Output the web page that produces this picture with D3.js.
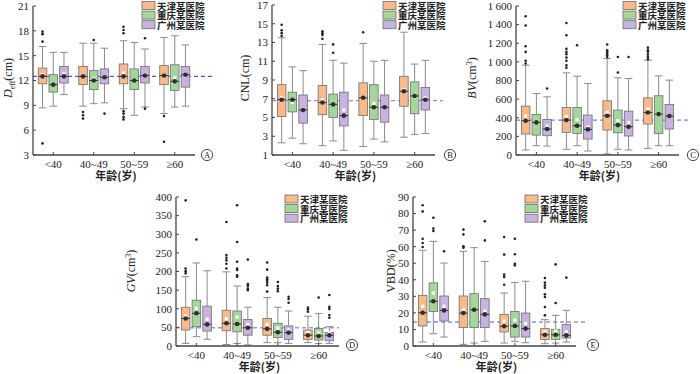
<!DOCTYPE html>
<html>
<head>
<meta charset="utf-8">
<script src="https://cdn.jsdelivr.net/npm/d3@7"></script>
<style>
  body { margin: 0; background: #fff; }
  svg { display: block; font-family: "Liberation Serif", serif; }
  .tick-label { font-size: 11px; fill: #222; }
  .legend-text { font-family: "Noto Sans CJK SC", sans-serif; font-size: 9.5px; font-weight: bold; fill: #222; }
  .x-title { font-family: "Noto Sans CJK SC", sans-serif; font-size: 11px; font-weight: bold; fill: #222; }
</style>
</head>
<body>
<svg width="700" height="374"></svg>
<script>
const groups = ["<40", "40~49", "50~59", "≥60"];
const hospitals = ["天津某医院", "重庆某医院", "广州某医院"];
const colors = ["#f8ba8c", "#a4d69c", "#c7b2e0"];

// [low, q1, median, q3, high] per hospital, per age group
const deffBox = [
  [[8.7, 11.6, 12.5, 13.5, 16.1], [8.9, 11.5, 12.5, 13.7, 16.5], [8.6, 11.6, 12.5, 14.0, 16.8], [8.0, 11.5, 12.6, 13.8, 17.2]],
  [[8.9, 10.6, 11.5, 12.7, 15.4], [9.2, 10.9, 12.0, 13.2, 16.5], [7.8, 10.9, 12.0, 13.4, 16.6], [8.8, 10.8, 11.9, 13.9, 17.4]],
  [[10.3, 11.7, 12.5, 13.7, 15.4], [9.3, 11.6, 12.4, 13.4, 15.9], [8.8, 11.7, 12.6, 13.7, 15.8], [8.9, 11.2, 12.7, 13.7, 16.3]]
];
const deffMean = [[12.7, 12.6, 12.9, 12.7], [11.6, 12.2, 12.1, 12.3], [12.8, 12.4, 12.7, 12.6]];
const deffOut = [
  [[17.9, 17.6, 16.7, 4.4], [8.2, 7.8, 7.4], [18.5, 18.1, 17.7, 8.3, 8.0, 7.6, 7.3], [7.7, 4.6]],
  [[], [16.9], [], []],
  [[], [8.0], [17.1, 8.6], []]
];

const cnlBox = [
  [[2.3, 5.1, 6.9, 8.5, 13.5], [2.0, 5.3, 6.6, 8.4, 12.8], [1.9, 5.2, 7.1, 8.7, 12.9], [2.9, 6.2, 7.8, 9.4, 14.1]],
  [[2.8, 5.6, 6.9, 7.7, 10.4], [2.5, 5.0, 6.4, 7.5, 11.1], [2.7, 4.8, 6.1, 8.5, 11.0], [3.2, 5.4, 7.3, 8.8, 10.7]],
  [[2.2, 4.4, 5.8, 7.4, 10.0], [1.5, 4.1, 5.2, 7.7, 10.8], [2.4, 4.5, 6.1, 7.4, 11.1], [3.3, 5.8, 6.9, 8.2, 11.1]]
];
const cnlMean = [[7.1, 6.9, 7.1, 8.0], [6.6, 6.5, 6.5, 7.2], [5.9, 5.8, 6.1, 7.1]];
const cnlOut = [
  [[14.9, 14.3, 14.0, 13.7], [14.2, 14.0, 13.8, 13.4], [14.1], []],
  [[], [12.8, 11.9], [], []],
  [[], [], [], []]
];

const bvBox = [
  [[54, 225, 368, 525, 964], [61, 243, 375, 511, 882], [11, 268, 421, 582, 1036], [71, 332, 457, 614, 1018]],
  [[100, 214, 350, 436, 661], [100, 232, 314, 511, 846], [61, 239, 321, 482, 829], [100, 232, 439, 636, 850]],
  [[96, 207, 279, 382, 625], [43, 171, 275, 429, 768], [54, 204, 304, 471, 821], [100, 279, 418, 543, 804]]
];
const bvMean = [[418, 411, 457, 493], [360, 380, 370, 440], [311, 300, 346, 420]];
const bvOut = [
  [[1490, 1390, 1168, 1107, 1011, 982], [1418, 1286, 1140, 1107, 1082, 1046, 1011, 964, 936], [1186, 1125, 1107, 1089, 1071, 1053], [1153, 1125, 1107, 1078, 1053, 1028]],
  [[], [1178], [1053, 886], []],
  [[714], [], [1053], []]
];

const gvBox = [
  [[7, 43, 74, 104, 186], [4, 41, 61, 96, 199], [9, 29, 46, 74, 130], [9, 18, 29, 43, 80]],
  [[25, 52, 88, 123, 223], [7, 38, 59, 94, 161], [9, 23, 37, 61, 104], [7, 16, 27, 47, 87]],
  [[18, 40, 58, 107, 202], [3, 29, 49, 71, 104], [7, 18, 36, 54, 94], [7, 14, 29, 36, 52]]
];
const gvMean = [[80, 73, 57, 36], [101, 78, 48, 35], [72, 58, 43, 35]];
const gvOut = [
  [[391, 208, 201, 195], [333, 244, 237, 230, 221, 208], [224, 205, 184, 179, 175, 170, 163, 146], [103, 98, 92]],
  [[286], [378, 279, 226, 208, 204, 190, 186], [172, 161, 154, 147], [130]],
  [[], [232, 166, 161, 154, 150], [132, 126, 116], [137, 105, 99, 83, 76]]
];

const vbdBox = [
  [[2.4, 12.1, 20.1, 30.6, 57.8], [1.0, 11.1, 19.9, 30.2, 57.2], [1.8, 8.5, 11.9, 19.1, 32.0], [1.4, 4.0, 6.8, 10.5, 15.9]],
  [[7.4, 20.9, 27.0, 38.1, 63.2], [1.8, 11.1, 21.9, 31.6, 59.4], [2.8, 5.4, 12.1, 20.9, 38.3], [1.8, 4.0, 6.8, 10.1, 18.5]],
  [[5.4, 15.1, 21.5, 30.2, 50.1], [2.8, 11.1, 19.1, 28.6, 51.1], [2.0, 5.4, 10.5, 19.9, 39.1], [2.4, 4.8, 6.4, 12.9, 21.5]]
];
const vbdMean = [[24, 22, 15, 8.5], [32, 22, 15.6, 9], [24, 21, 13.5, 8.5]];
const vbdOut = [
  [[85, 81.3, 64.8, 62.2, 59.8], [70.3, 67.4, 60.2, 59.4], [65.8, 55.2, 43.1, 41.7, 37], [41.1, 38.3, 36.6, 35.2, 31.2, 29.6, 23.6, 18.5]],
  [[77.5, 70.9, 69.5], [], [64.8, 55.4, 49.7, 48.7], [49.3, 26]],
  [[57.2], [75.3, 63.8], [], [41.3]]
];

const panels = [
  { letter: "A", box: deffBox, mean: deffMean, out: deffOut, ref: 12.5, refColor: "#4d5ad4",
    domain: [3, 21], ticks: d3.range(3, 22, 3), x0: 33, x1: 195, top: 6, bottom: 155, dashEnd: 213,
    circle: [207, 155], legend: [142, 1.5], ylab: [8, 78], label: "deff" },
  { letter: "B", box: cnlBox, mean: cnlMean, out: cnlOut, ref: 6.8, refColor: "#8e8ee0",
    domain: [1, 17], ticks: d3.range(1, 18, 2), x0: 272, x1: 435, top: 5, bottom: 155, dashEnd: 443,
    circle: [450, 155], legend: [383, 1.5], ylab: [245, 78], label: "cnl" },
  { letter: "C", box: bvBox, mean: bvMean, out: bvOut, ref: 375, refColor: "#7f7fe0",
    domain: [0, 1600], ticks: d3.range(0, 1601, 200), x0: 516, x1: 679, top: 6, bottom: 155, dashEnd: 690,
    circle: [693, 155], legend: [623, 1.5], ylab: [472, 78], label: "bv" },
  { letter: "D", box: gvBox, mean: gvMean, out: gvOut, ref: 49, refColor: "#9a9ae2",
    domain: [0, 400], ticks: d3.range(0, 401, 50), x0: 176, x1: 339, top: 197, bottom: 346, dashEnd: 339,
    circle: [352, 345], legend: [285, 195], ylab: [131, 271], label: "gv" },
  { letter: "E", box: vbdBox, mean: vbdMean, out: vbdOut, ref: 14.5, refColor: "#9090dc",
    domain: [0, 90], ticks: d3.range(0, 91, 10), x0: 413, x1: 576, top: 197, bottom: 346, dashEnd: 588,
    circle: [593, 345], legend: [525, 195], ylab: [391, 271], label: "vbd" }
];

const svg = d3.select("svg");
svg.append("rect").attr("width", 700).attr("height", 374).attr("fill", "#fff");

const fmt = v => v >= 1000 ? d3.format(",")(v).replace(",", "\u2009") : String(v);

panels.forEach(p => {
  const g = svg.append("g");
  const y = d3.scaleLinear().domain(p.domain).range([p.bottom, p.top]);
  const x = d3.scaleBand().domain(groups).range([p.x0, p.x1]);
  const off = d3.scaleBand().domain(hospitals).range([-15, 15]).paddingInner(0.2);
  const bw = off.bandwidth();

  // reference dashed line
  g.append("line")
    .attr("x1", p.x0).attr("x2", p.dashEnd)
    .attr("y1", y(p.ref)).attr("y2", y(p.ref))
    .attr("stroke", p.refColor).attr("stroke-width", 1.3)
    .attr("stroke-dasharray", "4,3");

  hospitals.forEach((h, hi) => {
    groups.forEach((grp, gi) => {
      const s = p.box[hi][gi];
      const left = x(grp) + x.bandwidth() / 2 + off(h);
      const cx = left + bw / 2;
      const b = g.append("g");
      b.append("line").attr("x1", cx).attr("x2", cx).attr("y1", y(s[0])).attr("y2", y(s[1]))
        .attr("stroke", "#8a8a8a").attr("stroke-width", 1);
      b.append("line").attr("x1", cx).attr("x2", cx).attr("y1", y(s[3])).attr("y2", y(s[4]))
        .attr("stroke", "#8a8a8a").attr("stroke-width", 1);
      [s[0], s[4]].forEach(v => {
        b.append("line").attr("x1", left + 0.5).attr("x2", left + bw - 0.5).attr("y1", y(v)).attr("y2", y(v))
          .attr("stroke", "#8a8a8a").attr("stroke-width", 1);
      });
      b.append("rect")
        .attr("x", left).attr("width", bw)
        .attr("y", y(s[3])).attr("height", y(s[1]) - y(s[3]))
        .attr("fill", colors[hi]).attr("stroke", "#6e6e6e").attr("stroke-width", 0.8);
      b.append("line").attr("x1", left).attr("x2", left + bw).attr("y1", y(s[2])).attr("y2", y(s[2]))
        .attr("stroke", "#333").attr("stroke-width", 1);
      b.append("rect")
        .attr("x", cx - 1.6).attr("y", y(p.mean[hi][gi]) - 1.6)
        .attr("width", 3.2).attr("height", 3.2).attr("fill", "#fff");
      b.append("circle").attr("cx", cx).attr("cy", y(s[2])).attr("r", 2.3).attr("fill", "#2e2e2e");
      b.selectAll("circle.out")
        .data(p.out[hi][gi])
        .enter()
        .append("circle")
        .attr("class", "out")
        .attr("cx", cx).attr("cy", v => y(v)).attr("r", 1.3).attr("fill", "#222");
    });
  });

  // axes
  g.append("line").attr("x1", p.x0).attr("x2", p.x0).attr("y1", p.top).attr("y2", p.bottom)
    .attr("stroke", "#444").attr("stroke-width", 1.3);
  g.append("line").attr("x1", p.x0).attr("x2", p.x1).attr("y1", p.bottom).attr("y2", p.bottom)
    .attr("stroke", "#444").attr("stroke-width", 1.3);

  p.ticks.forEach(t => {
    g.append("line").attr("x1", p.x0).attr("x2", p.x0 + 3).attr("y1", y(t)).attr("y2", y(t))
      .attr("stroke", "#444").attr("stroke-width", 1);
    g.append("text").attr("class", "tick-label")
      .attr("x", p.x0 - 4).attr("y", y(t)).attr("dy", "0.35em")
      .attr("text-anchor", "end").text(fmt(t));
  });

  groups.forEach(grp => {
    const cx = x(grp) + x.bandwidth() / 2;
    g.append("line").attr("x1", cx).attr("x2", cx).attr("y1", p.bottom).attr("y2", p.bottom - 3)
      .attr("stroke", "#444").attr("stroke-width", 1);
    g.append("text").attr("class", "tick-label")
      .attr("x", cx).attr("y", p.bottom + 9).attr("dy", "0.35em")
      .attr("text-anchor", "middle").text(grp);
  });

  g.append("text").attr("class", "x-title")
    .attr("x", (p.x0 + p.x1) / 2 + 2).attr("y", p.bottom + 21).attr("dy", "0.35em")
    .attr("text-anchor", "middle").text("年龄(岁)");

  // y label
  const yl = g.append("text")
    .attr("transform", `translate(${p.ylab[0]},${p.ylab[1]}) rotate(-90)`)
    .attr("text-anchor", "middle").attr("dy", "0.35em")
    .attr("font-size", 12).attr("fill", "#222");
  if (p.label === "deff") {
    yl.append("tspan").attr("font-style", "italic").text("D");
    yl.append("tspan").attr("font-size", 8).attr("dy", 3).text("eff");
    yl.append("tspan").attr("dy", -3).text("(cm)");
  } else if (p.label === "cnl") {
    yl.text("CNL(cm)");
  } else if (p.label === "bv" || p.label === "gv") {
    yl.append("tspan").attr("font-style", "italic").text(p.label === "bv" ? "BV" : "GV");
    yl.append("tspan").text("(cm");
    yl.append("tspan").attr("font-size", 8).attr("dy", -4).text("3");
    yl.append("tspan").attr("dy", 4).text(")");
  } else {
    yl.text("VBD(%)");
  }

  // legend: swatches, then one text block with a line per hospital
  g.selectAll("rect.swatch")
    .data(hospitals)
    .enter()
    .append("rect")
    .attr("class", "swatch")
    .attr("x", p.legend[0]).attr("y", (h, i) => p.legend[1] + i * 9.6)
    .attr("width", 13).attr("height", 8)
    .attr("fill", (h, i) => colors[i]).attr("stroke", "#6e6e6e").attr("stroke-width", 0.8);
  g.append("text").attr("class", "legend-text")
    .selectAll("tspan")
    .data(hospitals)
    .enter()
    .append("tspan")
    .attr("x", p.legend[0] + 15)
    .attr("y", (h, i) => p.legend[1] + i * 9.6 + 8)
    .text(h => h);

  // panel letter
  g.append("circle").attr("cx", p.circle[0]).attr("cy", p.circle[1]).attr("r", 5.6)
    .attr("fill", "none").attr("stroke", "#333").attr("stroke-width", 0.9);
  g.append("text").attr("x", p.circle[0]).attr("y", p.circle[1]).attr("dy", "0.35em")
    .attr("text-anchor", "middle").attr("font-size", 8.5).attr("fill", "#222").text(p.letter);
});
</script>
</body>
</html>
